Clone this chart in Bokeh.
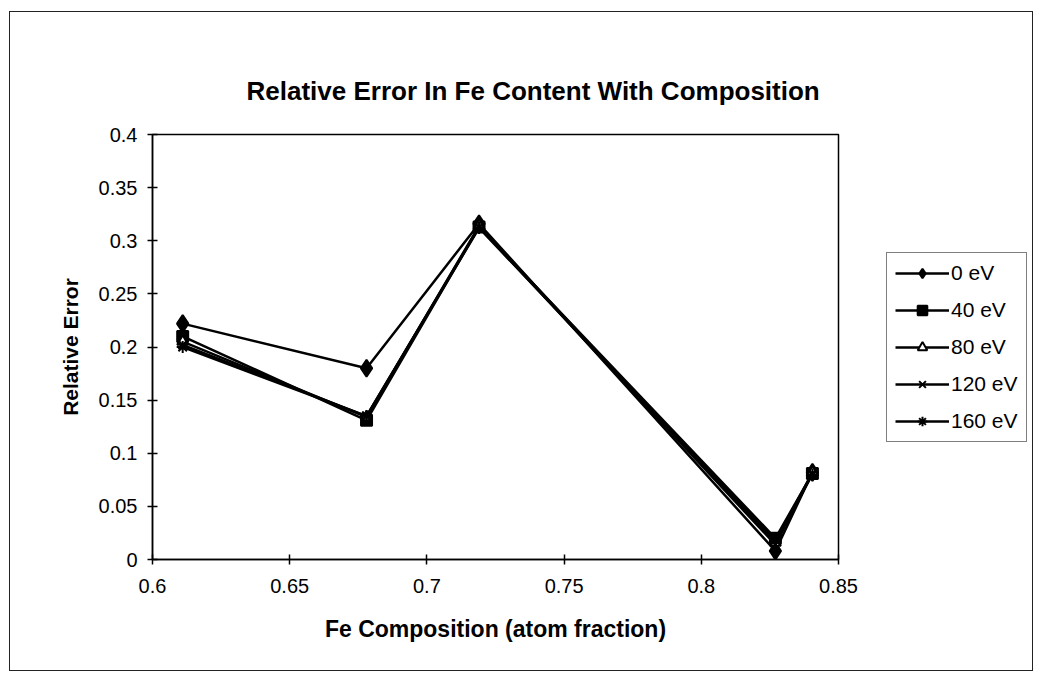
from bokeh.plotting import figure
from bokeh.models import Range1d, FixedTicker, Legend, LegendItem
from bokeh.embed import file_html
from bokeh.resources import INLINE

# ---- data ----
fe_composition = [0.611, 0.678, 0.719, 0.827, 0.8405]
err_0eV = [0.222, 0.180, 0.316, 0.008, 0.082]
err_40eV = [0.210, 0.131, 0.313, 0.020, 0.081]
err_80eV = [0.205, 0.134, 0.314, 0.016, 0.082]
err_120eV = [0.202, 0.135, 0.313, 0.014, 0.081]
err_160eV = [0.200, 0.135, 0.312, 0.018, 0.080]
series_names = ["0 eV", "40 eV", "80 eV", "120 eV", "160 eV"]

x_ticks = [0.6, 0.65, 0.7, 0.75, 0.8, 0.85]
x_tick_labels = ["0.6", "0.65", "0.7", "0.75", "0.8", "0.85"]
y_ticks = [0, 0.05, 0.1, 0.15, 0.2, 0.25, 0.3, 0.35, 0.4]
y_tick_labels = ["0", "0.05", "0.1", "0.15", "0.2", "0.25", "0.3", "0.35", "0.4"]

title_text = "Relative Error In Fe Content With Composition"
x_label = "Fe Composition (atom fraction)"
y_label = "Relative Error"

FONT = "Liberation Sans"

p = figure(width=1024, height=660, frame_width=686, frame_height=425,
           output_backend="svg", toolbar_location=None,
           x_range=Range1d(0.6, 0.85), y_range=Range1d(0, 0.4),
           min_border_left=142, min_border_right=196,
           min_border_top=122, min_border_bottom=113)
p.styles = {"border": "1px solid #222", "margin-left": "9px", "margin-top": "11px",
            "overflow": "hidden", "width": "1024px", "height": "660px"}
p.grid.visible = False
p.outline_line_color = "black"
p.outline_line_width = 1.5
p.background_fill_color = "white"
p.border_fill_color = "white"

for ax in (p.xaxis[0], p.yaxis[0]):
    ax.axis_line_color = "black"
    ax.axis_line_width = 1.5
    ax.major_tick_line_color = "black"
    ax.major_tick_line_width = 1.5
    ax.minor_tick_line_color = None
    ax.major_tick_in = 5
    ax.major_tick_out = 5
    ax.major_label_text_font = FONT
    ax.major_label_text_font_size = "20px"
    ax.major_label_text_color = "black"
    ax.axis_label_text_font = FONT
    ax.axis_label_text_font_style = "bold"
    ax.axis_label_text_color = "black"

p.xaxis.ticker = FixedTicker(ticks=x_ticks)
p.yaxis.ticker = FixedTicker(ticks=y_ticks)
p.xaxis.major_label_overrides = dict(zip(x_ticks, x_tick_labels))
p.yaxis.major_label_overrides = dict(zip(y_ticks, y_tick_labels))
p.xaxis.axis_label = x_label
p.yaxis.axis_label = y_label
p.xaxis.axis_label_text_font_size = "23px"
p.yaxis.axis_label_text_font_size = "21px"
p.xaxis.major_label_standoff = 14
p.xaxis.axis_label_standoff = 20
p.yaxis.major_label_standoff = 10
p.yaxis.axis_label_standoff = 14

series = [err_0eV, err_40eV, err_80eV, err_120eV, err_160eV]
markers = [("diamond", 17, "black"), ("square", 11, "black"), ("triangle", 11, "white"),
           ("x", 12, "black"), ("asterisk", 12, "black")]

items = []
for name, ys, (mk, sz, fill) in zip(series_names, series, markers):
    l = p.line(fe_composition, ys, line_color="black", line_width=2.5)
    s = p.scatter(fe_composition, ys, marker=mk, size=sz, fill_color=fill,
                  line_color="black", line_width=2)
    items.append(LegendItem(label=name, renderers=[l, s]))

legend = Legend(items=items, location="center_left")
legend.border_line_color = "black"
legend.border_line_width = 1.5
legend.background_fill_color = "white"
legend.background_fill_alpha = 1
legend.label_text_font = FONT
legend.label_text_font_size = "21px"
legend.label_text_color = "black"
legend.glyph_width = 54
legend.glyph_height = 24
legend.label_height = 24
legend.spacing = 13
legend.padding = 8
legend.label_standoff = 2
legend.margin = 48
p.add_layout(legend, "right")

p.title.text = title_text
p.title.align = "left"
p.title.offset = 94
p.title.standoff = 58
p.title.text_font = FONT
p.title.text_font_size = "26px"
p.title.text_font_style = "bold"
p.title.text_color = "black"

open("out.html", "w").write(file_html(p, INLINE))
